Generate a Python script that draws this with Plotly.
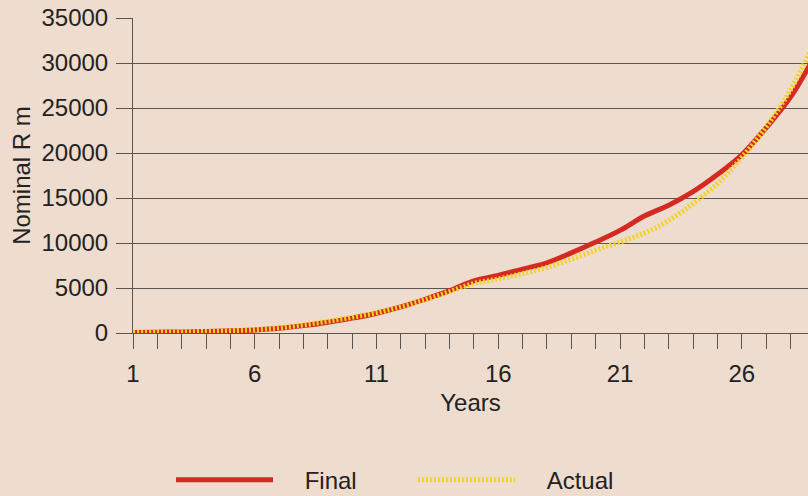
import plotly.graph_objects as go

years = list(range(1, 30))
final = [50, 80, 120, 170, 240, 340, 520, 820, 1200, 1650, 2200, 2900, 3750, 4700, 5800,
         6400, 7100, 7800, 8900, 10100, 11400, 13000, 14200, 15700, 17600, 19800, 22800, 26200, 30800]
actual = [50, 80, 120, 170, 250, 370, 580, 900, 1300, 1750, 2250, 2900, 3700, 4600, 5500,
          6000, 6600, 7300, 8200, 9200, 10100, 11100, 12500, 14400, 16600, 19500, 22900, 27000, 32300]
xtick_vals = [1, 6, 11, 16, 21, 26]
ytick_vals = [0, 5000, 10000, 15000, 20000, 25000, 30000, 35000]

bg = "#EEDCCF"
ink = "#222222"
grid = "#5a5550"
pad = "\u00a0" * 4

fig = go.Figure()
fig.add_trace(go.Scatter(x=years, y=final, mode="lines", name=pad + "Final",
                         line=dict(color="#D42A22", width=5), line_shape="spline"))
fig.add_trace(go.Scatter(x=years, y=actual, mode="lines", name=pad + "Actual",
                         line=dict(color="#F2D224", width=5, dash="2px,2px"), line_shape="spline"))

font = dict(family="Liberation Sans, Arial, sans-serif", color=ink)

fig.update_layout(
    width=808, height=496,
    paper_bgcolor=bg, plot_bgcolor=bg,
    margin=dict(l=133, r=0, t=18, b=163, autoexpand=False),
    font=dict(**font, size=22),
    showlegend=True,
    legend=dict(orientation="h", xref="container", yref="container",
                x=171 / 808, y=0.032, xanchor="left", yanchor="middle",
                itemwidth=97, font=dict(**font, size=24), bgcolor="rgba(0,0,0,0)",
                entrywidth=130, entrywidthmode="pixels"),
    xaxis=dict(range=[1, 28.72], tickmode="array", tickvals=xtick_vals,
               ticktext=[str(v) for v in xtick_vals], automargin=False,
               ticks="outside", ticklen=15, tickcolor=grid, tickwidth=1,
               minor=dict(dtick=1, tick0=1, ticks="outside", ticklen=15, tickcolor=grid, showgrid=False),
               showgrid=False, showline=True, linecolor=grid, linewidth=1, zeroline=False,
               tickfont=dict(**font, size=24), ticklabelstandoff=4,
               title=dict(text="Years", font=dict(**font, size=24), standoff=8)),
    yaxis=dict(range=[0, 35000], tickmode="array", tickvals=ytick_vals,
               ticktext=[str(v) for v in ytick_vals], automargin=False,
               ticks="outside", ticklen=16, tickcolor=grid, tickwidth=1,
               showgrid=True, gridcolor=grid, gridwidth=1,
               showline=True, linecolor=grid, linewidth=1, zeroline=False,
               tickfont=dict(**font, size=24), ticklabelstandoff=3,
               title=dict(text="Nominal R m", font=dict(**font, size=24), standoff=4)),
)

fig.write_html("out.html", config={"displayModeBar": False},
               post_script="document.body.style.margin='0';document.body.style.background='#EEDCCF';")
